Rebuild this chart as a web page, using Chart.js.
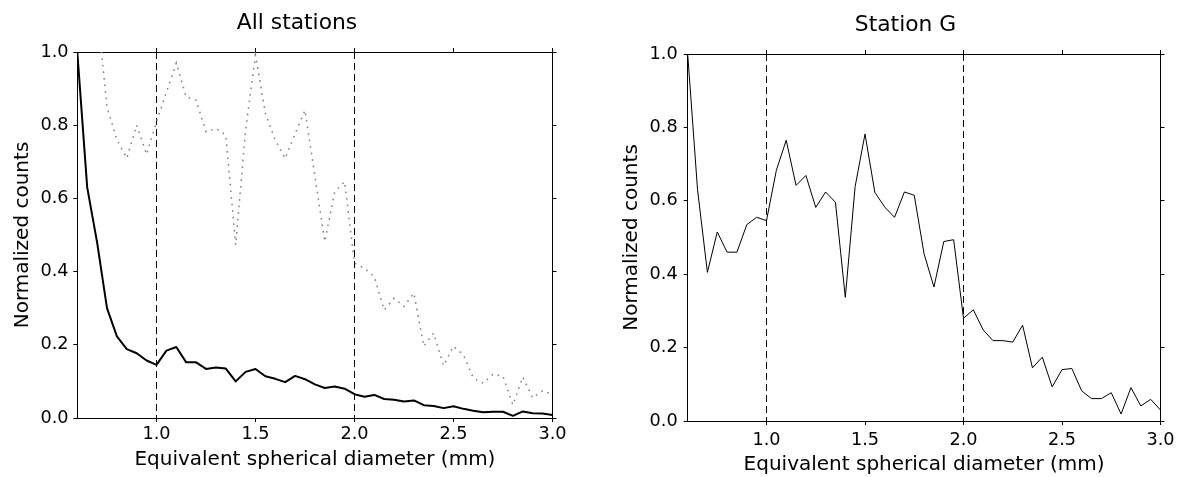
<!DOCTYPE html>
<html><head><meta charset="utf-8">
<script src="https://cdn.jsdelivr.net/npm/chart.js@4.4.1/dist/chart.umd.min.js"></script>
<style>
html,body{margin:0;padding:0;background:#fff;overflow:hidden;width:1181px;height:477px;}
.box{position:absolute;top:0;height:477px;}
#wrapA{left:0;width:594px;}
#wrapB{left:600px;width:611px;}
canvas{display:block;}
</style></head><body>
<div class="box" id="wrapA"><canvas id="chartA" width="594" height="477"></canvas></div>
<div class="box" id="wrapB"><canvas id="chartB" width="611" height="477"></canvas></div>
<script>
// ---- data ----
const diameters = [0.60,0.65,0.70,0.75,0.80,0.85,0.90,0.95,1.00,1.05,1.10,1.15,1.20,1.25,1.30,1.35,1.40,1.45,1.50,1.55,1.60,1.65,1.70,1.75,1.80,1.85,1.90,1.95,2.00,2.05,2.10,2.15,2.20,2.25,2.30,2.35,2.40,2.45,2.50,2.55,2.60,2.65,2.70,2.75,2.80,2.85,2.90,2.95,3.00];
const allStationsSolid = [1.0,0.63,0.48,0.30,0.223,0.188,0.177,0.157,0.145,0.184,0.194,0.152,0.152,0.134,0.138,0.135,0.100,0.126,0.134,0.114,0.107,0.098,0.115,0.106,0.092,0.082,0.086,0.080,0.065,0.058,0.063,0.052,0.050,0.045,0.048,0.035,0.033,0.027,0.032,0.025,0.020,0.016,0.017,0.017,0.006,0.018,0.013,0.012,0.008];
const allStationsDotted = [1.9,1.5,1.12,0.85,0.76,0.71,0.80,0.72,0.81,0.89,0.97,0.877,0.868,0.782,0.791,0.773,0.473,0.787,0.991,0.832,0.759,0.709,0.777,0.841,0.66,0.482,0.618,0.646,0.423,0.409,0.386,0.295,0.327,0.305,0.341,0.196,0.232,0.143,0.196,0.173,0.109,0.095,0.12,0.114,0.036,0.112,0.055,0.075,0.064];
const stationG = [1.0,0.63,0.405,0.515,0.46,0.46,0.535,0.555,0.546,0.683,0.765,0.642,0.669,0.582,0.624,0.596,0.337,0.639,0.782,0.623,0.583,0.555,0.624,0.615,0.455,0.365,0.489,0.494,0.28,0.303,0.248,0.219,0.219,0.215,0.261,0.145,0.174,0.093,0.14,0.143,0.082,0.061,0.061,0.077,0.019,0.091,0.041,0.059,0.03];
const xTickValues = [1.0,1.5,2.0,2.5,3.0];
const yTickValues = [0.0,0.2,0.4,0.6,0.8,1.0];
const markerLines = [1.0,2.0];
const titleA = 'All stations';
const titleB = 'Station G';
const xLabel = 'Equivalent spherical diameter (mm)';
const yLabel = 'Normalized counts';

Chart.defaults.font.family = "'DejaVu Sans', sans-serif";
Chart.defaults.color = '#000';

function pts(ys){ return diameters.map((d,i)=>({x:d,y:ys[i]})); }
function markerSets(){
  return markerLines.map(m=>({data:[{x:m,y:1},{x:m,y:0}],borderColor:'#000',borderWidth:1,borderDash:[7,4],pointRadius:0,fill:false,clip:0}));
}
function fix(prop,val){
  return s=>{ s[prop]=val; s.paddingLeft=0; s.paddingRight=0; s.paddingTop=0; s.paddingBottom=0; };
}
function build(id, datasets, title, g){
  const gridOpt = {drawOnChartArea:false,drawTicks:true,tickLength:4,color:'#000',lineWidth:1};
  const borderOpt = {display:true,color:'#000',width:1};
  const fontS = {size:17.7};
  const fontL = {size:20};
  return new Chart(document.getElementById(id), {
    type:'line',
    data:{datasets:datasets},
    options:{
      responsive:false, animation:false, devicePixelRatio:1,
      layout:{padding:0},
      plugins:{legend:{display:false},tooltip:{enabled:false},
        title:{display:true,text:title,color:'#000',font:{size:21.8,weight:'normal'},padding:{top:g.tPadTop,bottom:g.tPadBottom}}},
      elements:{line:{tension:0}},
      scales:{
        x:{type:'linear',position:'bottom',min:0.6,max:3.0,
          afterBuildTicks:s=>{s.ticks=xTickValues.map(v=>({value:v}));},
          afterFit:fix('height',g.xH),
          ticks:{callback:v=>Number(v).toFixed(1),color:'#000',font:fontS,padding:g.xTickPad,maxRotation:0,minRotation:0,autoSkip:false},
          grid:gridOpt,border:borderOpt,
          title:{display:true,text:xLabel,color:'#000',font:fontL,padding:{top:0,bottom:g.xTitlePad}}},
        x2:{type:'linear',position:'top',min:0.6,max:3.0,
          afterBuildTicks:s=>{s.ticks=xTickValues.map(v=>({value:v}));},
          afterFit:fix('height',4),
          ticks:{display:false},grid:gridOpt,border:borderOpt},
        y:{type:'linear',position:'left',min:0,max:1.0,
          afterBuildTicks:s=>{s.ticks=yTickValues.map(v=>({value:v}));},
          afterFit:fix('width',g.yW),
          ticks:{callback:v=>Number(v).toFixed(1),color:'#000',font:fontS,padding:g.yTickPad},
          grid:gridOpt,border:borderOpt,
          title:{display:true,text:yLabel,color:'#000',font:fontL,padding:{top:g.yTitlePad,bottom:0}}},
        y2:{type:'linear',position:'right',min:0,max:1.0,
          afterBuildTicks:s=>{s.ticks=yTickValues.map(v=>({value:v}));},
          afterFit:fix('width',g.y2W),
          ticks:{display:false},grid:gridOpt,border:borderOpt}
      }
    }
  });
}

build('chartA', [
  {data:pts(allStationsDotted),borderColor:'#808080',borderWidth:1.5,borderDash:[1.6,5],pointRadius:0,fill:false,clip:0},
  {data:pts(allStationsSolid),borderColor:'#000',borderWidth:2,pointRadius:0,fill:false,borderJoinStyle:'round',clip:0},
  ...markerSets()
], titleA, {yW:77.3,y2W:41.5,xH:59,tPadTop:10.27,tPadBottom:11.57,xTickPad:1.6,xTitlePad:5.6,yTickPad:4.7,yTitlePad:11.08});

build('chartB', [
  {data:pts(stationG),borderColor:'#000',borderWidth:1,pointRadius:0,fill:false,borderJoinStyle:'round',clip:0},
  ...markerSets()
], titleB, {yW:87.7,y2W:50.5,xH:56,tPadTop:11.97,tPadBottom:11.87,xTickPad:4.5,xTitlePad:0,yTickPad:6,yTitlePad:19.38});
</script>
</body></html>
